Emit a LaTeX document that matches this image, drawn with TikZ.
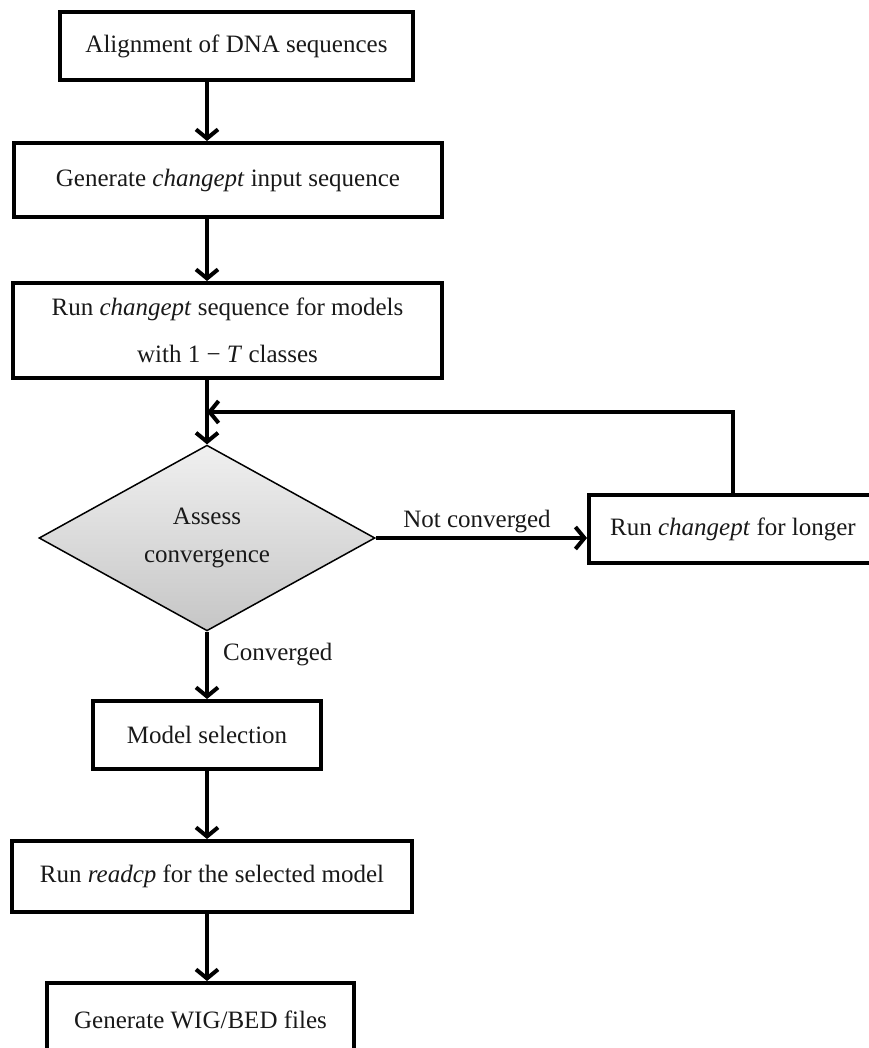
\documentclass[tikz,border=0pt]{standalone}
\usepackage{fontspec}
\setmainfont{Liberation Serif}
\usetikzlibrary{arrows.meta,shapes.geometric}
\begin{document}
\begin{tikzpicture}[x=1pt,y=-1pt,
  box/.style={draw,line width=4pt,inner sep=0pt,align=center,text=black!90,
    font=\fontsize{25}{30}\selectfont},
  decision/.style={diamond,draw,line width=1.5pt,inner sep=0pt,align=center,
    top color=gray!12,bottom color=gray!45,text=black!90,
    font=\fontsize{25}{38}\selectfont},
  conn/.style={line width=4pt,-{Straight Barb[length=9pt,width=22pt]}},
  lbl/.style={inner sep=0pt,text=black!90,font=\fontsize{25}{30}\selectfont},
  ]
\useasboundingbox (0,0) rectangle (868,1048);
\node[box,minimum width=353pt,minimum height=68pt] (b1) at (236.5,46) {Alignment of DNA sequences};
\node[box,minimum width=428pt,minimum height=74pt] (b2) at (228,180) {Generate \textit{changept} input sequence};
\node[box,minimum width=429pt,minimum height=95pt,font=\fontsize{25}{47}\selectfont] (b3) at (227.5,330.5)
  {Run \textit{changept} sequence for models\\with 1 − \textit{T} classes};
\node[decision,minimum width=336pt,minimum height=180pt] (d) at (207,538) {Assess\\convergence};
\node[box,minimum width=288pt,minimum height=68pt] (r) at (733,529) {Run \textit{changept} for longer};
\node[box,minimum width=228pt,minimum height=68pt] (ms) at (207,735) {Model selection};
\node[box,minimum width=400pt,minimum height=71pt] (rc) at (212,876.5) {Run \textit{readcp} for the selected model};
\node[box,minimum width=307pt,minimum height=74pt] (wig) at (200.5,1020) {Generate WIG/BED files};
\node[lbl] (nc) at (477,522) {Not converged};
\node[lbl,anchor=west] (cv) at (223,655) {Converged};
\coordinate (join) at (207,412);
\draw[conn] (b1.south -| d.north) -- (b2.north -| d.north);
\draw[conn] (b2.south -| d.north) -- (b3.north -| d.north);
\draw[conn] (b3.south -| d.north) -- (d.north);
\draw[conn] (r.north) |- (join);
\draw[conn] (d.east) -- (d.east -| r.west);
\draw[conn] (d.south) -- (ms.north -| d.south);
\draw[conn] (ms.south -| d.south) -- (rc.north -| d.south);
\draw[conn] (rc.south -| d.south) -- (wig.north -| d.south);
\end{tikzpicture}
\end{document}
